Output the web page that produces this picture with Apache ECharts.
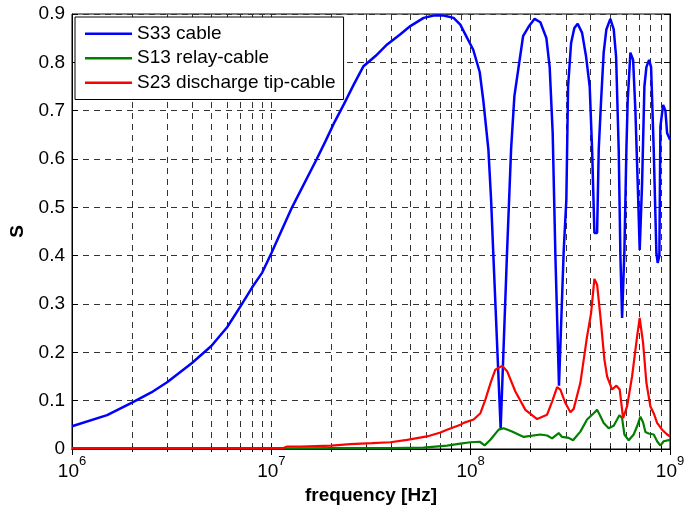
<!DOCTYPE html>
<html><head><meta charset="utf-8">
<script src="https://cdn.jsdelivr.net/npm/echarts@6/dist/echarts.min.js"></script>
<style>html,body{margin:0;padding:0;background:#fff}#c{width:697px;height:510px}</style>
</head><body><div id="c"></div>
<script>
// ---- data (frequency in Hz, S magnitude) ----
const seriesNames = ['S33 cable', 'S13 relay-cable', 'S23 discharge tip-cable'];

const freqS33 = [
  1e6, 1.5e6, 2e6, 2.5e6, 3e6, 4e6, 5e6, 6e6, 7e6, 8e6, 9e6, 1e7,
  1.27e7, 1.69e7, 1.87e7, 2.05e7, 2.31e7, 2.59e7, 2.90e7, 3.33e7, 3.81e7, 4.44e7,
  4.98e7, 5.81e7, 6.52e7, 7.32e7, 8.21e7, 8.87e7, 1.03e8, 1.11e8, 1.158e8, 1.227e8,
  1.266e8, 1.30e8, 1.414e8, 1.52e8, 1.595e8, 1.657e8, 1.832e8, 1.955e8, 2.094e8, 2.237e8,
  2.398e8, 2.491e8, 2.579e8, 2.661e8, 2.774e8, 2.929e8, 3.02e8, 3.081e8, 3.19e8, 3.313e8,
  3.443e8, 3.622e8, 3.793e8, 3.955e8, 4.066e8, 4.176e8, 4.308e8, 4.39e8, 4.51e8, 4.648e8,
  4.795e8, 5.02e8, 5.22e8, 5.365e8, 5.529e8, 5.638e8, 5.75e8, 5.905e8, 6.043e8, 6.134e8,
  6.328e8, 6.53e8, 6.705e8, 6.886e8, 7.047e8, 7.244e8, 7.44e8, 7.613e8, 7.855e8, 8.038e8,
  8.284e8, 8.546e8, 8.675e8, 8.846e8, 8.949e8, 9.234e8, 9.484e8, 9.67e8, 1e9
];
const valS33 = [
  0.047, 0.070, 0.096, 0.117, 0.138, 0.178, 0.213, 0.252, 0.295, 0.334, 0.365, 0.405,
  0.5, 0.6, 0.637, 0.672, 0.713, 0.754, 0.792, 0.813, 0.837, 0.858,
  0.875, 0.892, 0.897, 0.897, 0.892, 0.878, 0.826, 0.78, 0.72, 0.62,
  0.516, 0.40, 0.042, 0.40, 0.62, 0.73, 0.854, 0.874, 0.89, 0.883,
  0.85, 0.79, 0.654, 0.40, 0.131, 0.41, 0.516, 0.75, 0.84, 0.871,
  0.88, 0.861, 0.812, 0.75, 0.62, 0.447, 0.447, 0.62, 0.72, 0.82,
  0.868, 0.89, 0.868, 0.812, 0.62, 0.40, 0.271, 0.41, 0.62, 0.72,
  0.82, 0.805, 0.70, 0.55, 0.412, 0.55, 0.75, 0.79, 0.805, 0.79,
  0.62, 0.405, 0.385, 0.40, 0.667, 0.712, 0.70, 0.654, 0.64
];

const freqS13 = [
  1e6, 1.2e7, 2e7, 4e7, 5.79e7, 7.61e7, 8.88e7, 9.97e7, 1.11e8, 1.175e8,
  1.256e8, 1.382e8, 1.464e8, 1.613e8, 1.845e8, 2.237e8, 2.418e8, 2.562e8, 2.764e8, 2.875e8,
  3.102e8, 3.264e8, 3.551e8, 3.837e8, 4.141e8, 4.308e8, 4.439e8, 4.648e8, 4.925e8, 5.22e8,
  5.428e8, 5.574e8, 5.75e8, 5.905e8, 6.206e8, 6.573e8, 6.839e8, 7.105e8, 7.33e8, 7.527e8,
  7.82e8, 8.284e8, 8.616e8, 8.949e8, 9.299e8, 1e9
];
const valS13 = [
  0.001, 0.001, 0.002, 0.002, 0.003, 0.007, 0.011, 0.014, 0.015, 0.0075,
  0.019, 0.040, 0.043, 0.036, 0.025, 0.030, 0.028, 0.022, 0.033, 0.025,
  0.023, 0.018, 0.036, 0.061, 0.074, 0.081, 0.071, 0.054, 0.043, 0.048,
  0.061, 0.070, 0.064, 0.030, 0.018, 0.030, 0.047, 0.067, 0.055, 0.035,
  0.032, 0.030, 0.016, 0.007, 0.016, 0.019
];

const freqS23 = [
  1e6, 1.15e7, 1.2e7, 1.4e7, 2.0e7, 2.49e7, 3.2e7, 3.95e7, 4.8e7, 6.04e7,
  7.05e7, 7.61e7, 8.88e7, 9.22e7, 1.035e8, 1.119e8, 1.185e8, 1.266e8, 1.33e8, 1.438e8,
  1.523e8, 1.676e8, 1.882e8, 2.154e8, 2.418e8, 2.562e8, 2.714e8, 2.819e8, 2.987e8, 3.165e8,
  3.287e8, 3.551e8, 3.837e8, 4.019e8, 4.176e8, 4.308e8, 4.476e8, 4.688e8, 4.837e8, 5.124e8,
  5.385e8, 5.593e8, 5.817e8, 6.09e8, 6.452e8, 6.839e8, 7.047e8, 7.33e8, 7.613e8, 7.974e8,
  8.284e8, 8.616e8, 9.13e8, 9.67e8, 1e9
];
const valS23 = [
  0.002, 0.002, 0.005, 0.005, 0.007, 0.010, 0.012, 0.014, 0.019, 0.026,
  0.034, 0.040, 0.050, 0.054, 0.061, 0.074, 0.102, 0.140, 0.164, 0.172,
  0.161, 0.119, 0.081, 0.062, 0.071, 0.098, 0.128, 0.123, 0.095, 0.076,
  0.083, 0.137, 0.233, 0.281, 0.352, 0.340, 0.274, 0.185, 0.150, 0.123,
  0.131, 0.123, 0.064, 0.088, 0.150, 0.233, 0.271, 0.219, 0.137, 0.088,
  0.074, 0.054, 0.040, 0.030, 0.026
];

const xMin = 1e6, xMax = 1e9;
const yMin = 0, yMax = 0.9, yStep = 0.1;
const xTitle = 'frequency [Hz]';
const yTitle = 'S';
const colors = ['#0000ff', '#008000', '#ff0000'];

// ---- chart ----
const FONT = 'Arial, "Liberation Sans", Helvetica, sans-serif';
const pairs = (f, v) => f.map((x, i) => [x, v[i]]);
const gridDash = { color: '#333', width: 1, type: [6, 5] };

const chart = echarts.init(document.getElementById('c'), null, { renderer: 'canvas' });
chart.setOption({
  animation: false,
  backgroundColor: '#fff',
  textStyle: { fontFamily: FONT },
  grid: { left: 72, right: 27, top: 14, bottom: 61, show: true, borderColor: '#000', borderWidth: 1, backgroundColor: 'transparent' },
  legend: {
    orient: 'vertical', left: 75, top: 17,
    data: seriesNames,
    icon: 'rect',
    itemWidth: 47, itemHeight: 2.5, itemGap: 5,
    padding: [7, 8, 7, 10],
    borderColor: '#000', borderWidth: 1, backgroundColor: '#fff',
    textStyle: { fontFamily: FONT, fontSize: 19, color: '#000', lineHeight: 19.5 }
  },
  xAxis: [{
    type: 'log', logBase: 10, min: xMin, max: xMax, position: 'bottom',
    name: xTitle, nameLocation: 'middle', nameGap: 36,
    nameTextStyle: { fontFamily: FONT, fontSize: 19, fontWeight: 'bold', color: '#000' },
    axisLine: { show: true, lineStyle: { color: '#000', width: 1 } },
    axisTick: { show: true, inside: true, length: 6, lineStyle: { color: '#000' } },
    minorTick: { show: true, splitNumber: 9, length: 3, lineStyle: { color: '#000' } },
    splitLine: { show: true, lineStyle: gridDash },
    minorSplitLine: { show: true, lineStyle: gridDash },
    axisLabel: {
      margin: 6,
      formatter: v => '{b|10}{s|' + Math.round(Math.log10(v)) + '}',
      rich: {
        b: { fontFamily: FONT, fontSize: 19, color: '#000', lineHeight: 26, verticalAlign: 'bottom' },
        s: { fontFamily: FONT, fontSize: 13, color: '#000', lineHeight: 13, verticalAlign: 'top' }
      }
    }
  }, {
    type: 'log', logBase: 10, min: xMin, max: xMax, position: 'top',
    axisLine: { show: true, lineStyle: { color: '#000', width: 1 } },
    axisTick: { show: true, inside: true, length: 6, lineStyle: { color: '#000' } },
    minorTick: { show: true, splitNumber: 9, length: 3, lineStyle: { color: '#000' } },
    splitLine: { show: false }, minorSplitLine: { show: false },
    axisLabel: { show: false }
  }],
  yAxis: [{
    type: 'value', min: yMin, max: yMax, interval: yStep, position: 'left',
    name: yTitle, nameLocation: 'middle', nameGap: 43,
    nameTextStyle: { fontFamily: FONT, fontSize: 19, fontWeight: 'bold', color: '#000' },
    axisLine: { show: true, lineStyle: { color: '#000', width: 1 } },
    axisTick: { show: true, inside: true, length: 6, lineStyle: { color: '#000' } },
    splitLine: { show: true, lineStyle: gridDash },
    axisLabel: { margin: 7, fontFamily: FONT, fontSize: 19, color: '#000' }
  }, {
    type: 'value', min: yMin, max: yMax, interval: yStep, position: 'right',
    axisLine: { show: true, lineStyle: { color: '#000', width: 1 } },
    axisTick: { show: true, inside: true, length: 6, lineStyle: { color: '#000' } },
    splitLine: { show: false },
    axisLabel: { show: false }
  }],
  series: [
    { name: seriesNames[0], type: 'line', xAxisIndex: 0, yAxisIndex: 0, symbol: 'none', data: pairs(freqS33, valS33),
      lineStyle: { color: colors[0], width: 2.5 }, itemStyle: { color: colors[0] } },
    { name: seriesNames[1], type: 'line', xAxisIndex: 0, yAxisIndex: 0, symbol: 'none', data: pairs(freqS13, valS13),
      lineStyle: { color: colors[1], width: 2.2 }, itemStyle: { color: colors[1] } },
    { name: seriesNames[2], type: 'line', xAxisIndex: 0, yAxisIndex: 0, symbol: 'none', data: pairs(freqS23, valS23),
      lineStyle: { color: colors[2], width: 2.2 }, itemStyle: { color: colors[2] } }
  ]
});
</script>
</body></html>
